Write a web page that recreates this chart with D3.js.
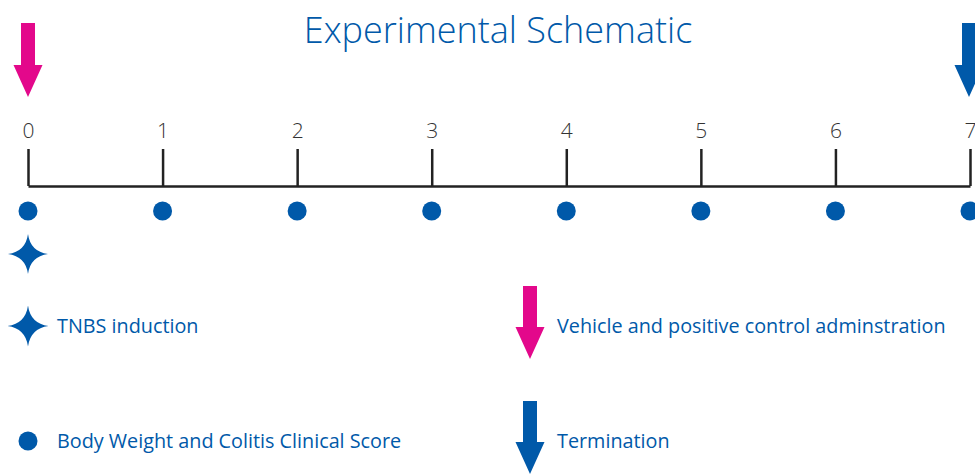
<!DOCTYPE html>
<html>
<head>
<meta charset="utf-8">
<script src="https://cdn.jsdelivr.net/npm/d3@7"></script>
<style>
  body { margin: 0; background: #fff; }
  svg { display: block; font-family: "Open Sans", "Noto Sans", sans-serif; }
</style>
</head>
<body>
<div id="chart"></div>
<script>
// Datos del esquema
const days = [0, 1, 2, 3, 4, 5, 6, 7];
const scoreDays = [0, 1, 2, 3, 4, 5, 6, 7];
const inductionDays = [0];
const vehicleDays = [0];
const terminationDays = [7];
const legendItems = [
  { key: 'star', label: 'TNBS induction', col: 0, row: 0 },
  { key: 'pink', label: 'Vehicle and positive control adminstration', col: 1, row: 0 },
  { key: 'dot', label: 'Body Weight and Colitis Clinical Score', col: 0, row: 1 },
  { key: 'blue', label: 'Termination', col: 1, row: 1 }
];

const W = 975, H = 474;
const blue = '#0059a9', pink = '#e3088b';

const svg = d3.select('#chart').append('svg')
  .attr('width', W).attr('height', H);

// Titulo
svg.append('text')
  .attr('x', 498).attr('y', 43)
  .attr('text-anchor', 'middle')
  .attr('fill', blue)
  .style('font-size', '36px')
  .style('font-weight', 300)
  .text('Experimental Schematic');

const x = d3.scaleLinear().domain([0, 7]).range([28, 970]);
const axisY = 186;

// Eje
const axis = svg.append('g')
  .attr('transform', 'translate(0,' + axisY + ')')
  .call(d3.axisTop(x).tickValues(days).tickFormat(d3.format('d'))
    .tickSize(37).tickSizeOuter(0).tickPadding(11));
axis.select('.domain').attr('stroke', '#222').attr('stroke-width', 2.5);
axis.selectAll('.tick line').attr('stroke', '#222').attr('stroke-width', 2.5);
axis.selectAll('.tick text')
  .attr('fill', '#333')
  .style('font-size', '21px')
  .style('font-family', '"Open Sans", sans-serif')
  .style('font-weight', 300);

// Formas
function starPath(r) {
  const c = r * 0.12;
  return 'M0,' + (-r) + ' Q' + c + ',' + (-c) + ' ' + r + ',0' +
    ' Q' + c + ',' + c + ' 0,' + r +
    ' Q' + (-c) + ',' + c + ' ' + (-r) + ',0' +
    ' Q' + (-c) + ',' + (-c) + ' 0,' + (-r) + 'Z';
}
function arrowPath(len) {
  // flecha hacia abajo, punta en (0, len)
  const sw = 7, hw = 14.5, hl = 32;
  return 'M' + (-sw) + ',0 L' + sw + ',0 L' + sw + ',' + (len - hl) +
    ' L' + hw + ',' + (len - hl) + ' L0,' + len + ' L' + (-hw) + ',' + (len - hl) +
    ' L' + (-sw) + ',' + (len - hl) + 'Z';
}

// Puntos
svg.selectAll('circle.score').data(scoreDays).enter().append('circle')
  .attr('class', 'score')
  .attr('cx', d => x(d)).attr('cy', 211).attr('r', 9.5)
  .attr('fill', blue);

// Estrellas
svg.selectAll('path.star').data(inductionDays).enter().append('path')
  .attr('class', 'star')
  .attr('transform', d => 'translate(' + x(d) + ',254)')
  .attr('d', starPath(20))
  .attr('fill', blue);

// Flechas
svg.selectAll('path.vehicle').data(vehicleDays).enter().append('path')
  .attr('class', 'vehicle')
  .attr('transform', d => 'translate(' + x(d) + ',23)')
  .attr('d', arrowPath(74))
  .attr('fill', pink);

svg.selectAll('path.term').data(terminationDays).enter().append('path')
  .attr('class', 'term')
  .attr('transform', d => 'translate(' + (x(d) - 1) + ',23)')
  .attr('d', arrowPath(74))
  .attr('fill', blue);

// Leyenda
const legend = svg.append('g');
const lg = legend.selectAll('g').data(legendItems).enter().append('g')
  .attr('transform', d => 'translate(' + (d.col === 0 ? 28 : 530) + ',' + (d.row === 0 ? 326 : 441) + ')');

lg.each(function (d) {
  const g = d3.select(this);
  if (d.key === 'star') {
    g.append('path').attr('d', starPath(20.5)).attr('fill', blue);
  } else if (d.key === 'dot') {
    g.append('circle').attr('r', 9.5).attr('fill', blue);
  } else {
    g.append('path')
      .attr('transform', 'translate(0,-40)')
      .attr('d', arrowPath(73))
      .attr('fill', d.key === 'pink' ? pink : blue);
  }
  g.append('text')
    .attr('x', d.col === 0 ? 29 : 27)
    .attr('y', 7)
    .attr('fill', blue)
    .style('font-size', '19.8px')
    .text(d.label);
});
</script>
</body>
</html>
